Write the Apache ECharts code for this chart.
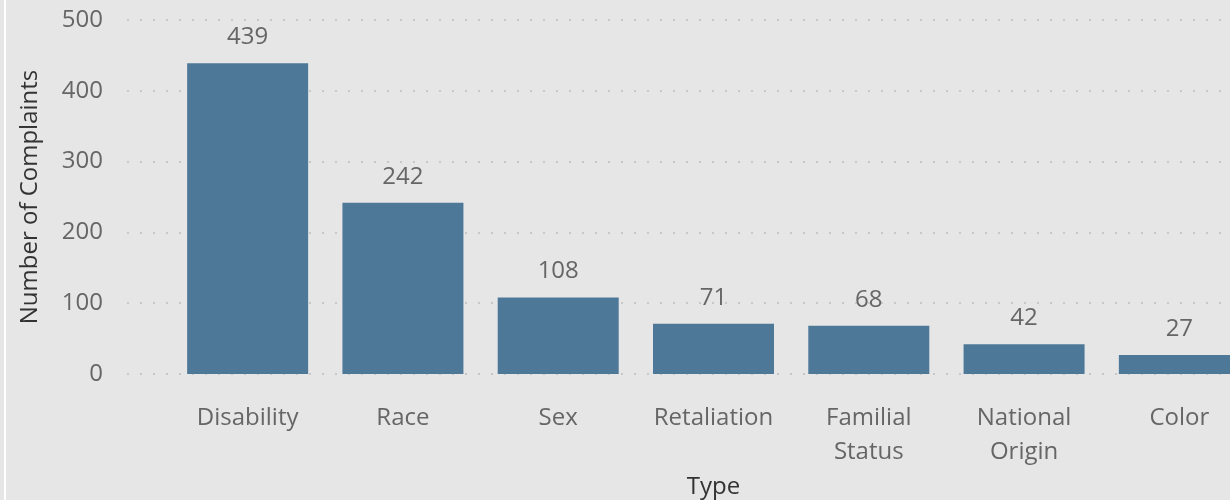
<!DOCTYPE html>
<html>
<head>
<meta charset="utf-8">
<script src="https://cdn.jsdelivr.net/npm/echarts@6/dist/echarts.min.js"></script>
<style>
html,body{margin:0;padding:0;background:#e6e6e6;overflow:hidden;}
#wrap{position:relative;width:1230px;height:500px;overflow:hidden;background:#e6e6e6;}
#chart{position:absolute;left:0;top:0;width:1257px;height:500px;}
#edge{position:absolute;left:4px;top:0;width:2px;height:500px;background:#ffffff;}
</style>
</head>
<body>
<div id="wrap"><div id="chart"></div><div id="edge"></div></div>
<script>
const categories = ['Disability', 'Race', 'Sex', 'Retaliation', 'Familial Status', 'National Origin', 'Color'];
const complaints = [439, 242, 108, 71, 68, 42, 27];
const yTicks = { min: 0, max: 500, interval: 100 };
const xTitle = 'Type';
const yTitle = 'Number of Complaints';

const FONT = "'Open Sans', 'Segoe UI', sans-serif";
const chart = echarts.init(document.getElementById('chart'), null, { renderer: 'canvas' });
chart.setOption({
  backgroundColor: '#e6e6e6',
  animation: false,
  textStyle: { fontFamily: FONT },
  grid: [
    { left: 127, right: 0, top: 20, bottom: 126, outerBoundsMode: 'none', containLabel: false },
    { left: 170, right: 0, top: 20, bottom: 126, outerBoundsMode: 'none', containLabel: false }
  ],
  xAxis: [
    { gridIndex: 0, type: 'value', show: false, min: 0, max: 1 },
    {
      gridIndex: 1, type: 'category', data: categories,
      axisLine: { show: false }, axisTick: { show: false },
      axisLabel: {
        color: '#666', fontSize: 24, fontFamily: FONT, margin: 27, lineHeight: 34,
        interval: 0, formatter: v => v.replace(' ', '\n')
      },
      name: xTitle, nameLocation: 'middle', nameGap: 101,
      nameTextStyle: { color: '#333', fontSize: 24, fontFamily: FONT }
    }
  ],
  yAxis: [
    {
      gridIndex: 0, type: 'value', min: yTicks.min, max: yTicks.max, interval: yTicks.interval,
      axisLine: { show: false }, axisTick: { show: false },
      axisLabel: { color: '#666', fontSize: 24, fontFamily: FONT, margin: 24 },
      splitLine: { show: true, lineStyle: { color: '#c8c8c8', width: 2, type: [2, 11] } },
      name: yTitle, nameLocation: 'middle', nameGap: 85, nameRotate: 90,
      nameTextStyle: { color: '#333', fontSize: 24, fontFamily: FONT }
    },
    {
      gridIndex: 1, type: 'value', min: yTicks.min, max: yTicks.max, show: false,
      splitLine: { show: false }
    }
  ],
  series: [{
    type: 'bar', xAxisIndex: 1, yAxisIndex: 1, data: complaints,
    barWidth: 121,
    itemStyle: { color: '#4e7898' },
    label: { show: true, position: 'top', distance: 14, color: '#666', fontSize: 24, fontFamily: FONT }
  }]
});
</script>
</body>
</html>
